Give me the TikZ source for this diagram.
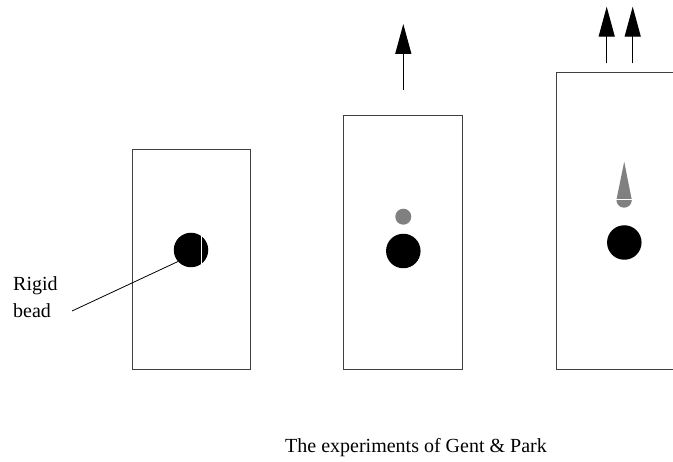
\documentclass[tikz,border=0pt]{standalone}
\usepackage{fontspec}
\setmainfont{Liberation Serif}
\usetikzlibrary{arrows.meta}
\tikzset{
  box/.style={draw=black!75,line width=1pt},
  bead/.style={circle,fill=black,inner sep=0pt,minimum size=34.5pt},
  smallbead/.style={circle,fill=black!50,inner sep=0pt,minimum size=16pt},
  uparrow/.style={line width=1.3pt,-{Triangle[length=30pt,width=16pt]}},
  lbl/.style={font=\fontsize{20}{27}\selectfont,inner sep=0pt},
}
\begin{document}
\begin{tikzpicture}[x=1pt,y=-1pt]
\clip (0,0) rectangle (673,462);
\fill[white] (0,0) rectangle (673,462);
% boxes
\draw[box] (132,149.5) rectangle (250,370);
\draw[box] (343.5,115.7) rectangle (462.5,370);
\draw[box] (556,72.7) rectangle (700,370);
% first: rigid bead
\node[bead] (b1) at (191,250) {};
\draw[white,line width=1pt] (201.3,236) -- (201.3,264);
\node[lbl,anchor=base west,align=left] (rl) at (13,318) {Rigid\\bead};
\coordinate (lend) at (72,311);
\coordinate (lstart) at (178,261.5);
\draw[line width=0.8pt] (lend) -- (lstart);
% second
\node[smallbead] (g2) at (403.3,216.7) {};
\node[bead] (b2) at (403.3,251) {};
\coordinate (a2s) at (403.3,90);
\coordinate (a2t) at (403.3,24);
\draw[uparrow] (a2s) -- (a2t);
% third
\fill[black!50] (624.2,161.7) -- (631.8,200) arc[start angle=0,end angle=180,radius=7.7] -- cycle;
\draw[white,line width=1pt] (616,200) -- (632.5,200);
\node[bead] (b3) at (624.3,242.5) {};
\coordinate (a3s) at (606.7,63.3);
\coordinate (a3t) at (606.7,6.7);
\coordinate (a4s) at (632.7,63.3);
\coordinate (a4t) at (632.7,6.7);
\draw[uparrow] (a3s) -- (a3t);
\draw[uparrow] (a4s) -- (a4t);
% caption
\node[lbl,anchor=base west] (cap) at (285,453) {The experiments of Gent \& Park};
\end{tikzpicture}
\end{document}
